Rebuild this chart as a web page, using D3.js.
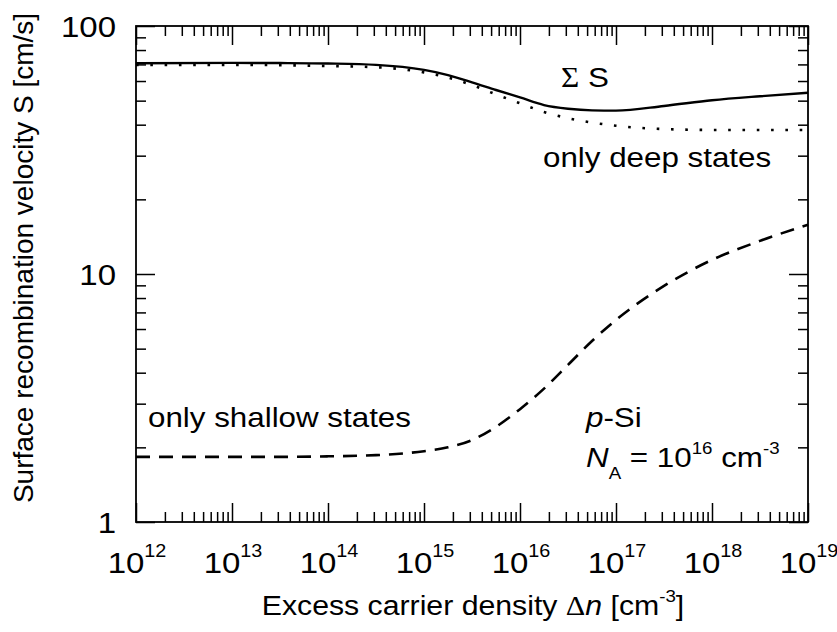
<!DOCTYPE html>
<html><head><meta charset="utf-8">
<script src="https://cdn.jsdelivr.net/npm/d3@7"></script>
<style>
body{margin:0;background:#fff;}
text{font-family:"Liberation Sans",Arial,sans-serif;fill:#000;}
</style></head>
<body><svg id="c" width="837" height="632"></svg>
<script>
// Excess carrier density (cm^-3)
const density = [1e12,1e13,10**13.5,1e14,10**14.5,1e15,10**15.25,10**15.5,10**15.75,1e16,10**16.25,10**16.5,10**16.75,1e17,10**17.5,1e18,10**18.5,1e19];
// Total S (solid)
const sumS    = [70.8,71.0,70.9,70.6,69.7,66.5,63.4,59.3,55.2,51.5,48.0,46.4,45.7,45.6,47.6,50.2,52.1,53.8];
// only deep states (dotted)
const deepS   = [69.7,69.7,69.5,69.0,68.2,65.0,62.0,57.8,53.0,48.8,45.0,42.5,40.8,39.6,38.4,38.1,38.1,38.1];
// only shallow states (dashed)
const shallowS= [1.83,1.83,1.83,1.84,1.86,1.93,2.00,2.14,2.42,2.85,3.45,4.30,5.37,6.53,8.95,11.4,13.6,15.8];

const xDecades = [12,13,14,15,16,17,18,19];
const yTickValues = [1,10,100];
const yTickLabels = ["1","10","100"];

const svg = d3.select("#c");
const L=136,R=808,T=26,B=522;
const SX=1.1; // horizontal stretch of the lettering
const x = d3.scaleLog().domain([1e12,1e19]).range([L,R]);
const y = d3.scaleLog().domain([1,100]).range([B,T]);

const xMajor = xDecades.map(e=>10**e);
const xMinor = [];
for(let e=12;e<19;e++) for(let k=2;k<=9;k++) xMinor.push(k*10**e);
const yMinor = [];
for(let e=0;e<2;e++) for(let k=2;k<=9;k++) yMinor.push(k*10**e);

function styleAxis(g){
  g.select(".domain").remove();
  g.selectAll("line").attr("stroke","#000").attr("stroke-width",1.5);
  g.selectAll("text").remove();
}
const MJ=19, MN=10;
svg.append("g").attr("transform",`translate(0,${B})`).call(d3.axisBottom(x).tickValues(xMajor).tickSize(-MJ)).call(styleAxis);
svg.append("g").attr("transform",`translate(0,${B})`).call(d3.axisBottom(x).tickValues(xMinor).tickSize(-MN)).call(styleAxis);
svg.append("g").attr("transform",`translate(0,${T})`).call(d3.axisTop(x).tickValues(xMajor).tickSize(-MJ)).call(styleAxis);
svg.append("g").attr("transform",`translate(0,${T})`).call(d3.axisTop(x).tickValues(xMinor).tickSize(-MN)).call(styleAxis);
svg.append("g").attr("transform",`translate(${L},0)`).call(d3.axisLeft(y).tickValues(yTickValues).tickSize(-MJ)).call(styleAxis);
svg.append("g").attr("transform",`translate(${L},0)`).call(d3.axisLeft(y).tickValues(yMinor).tickSize(-MN)).call(styleAxis);
svg.append("g").attr("transform",`translate(${R},0)`).call(d3.axisRight(y).tickValues(yTickValues).tickSize(-MJ)).call(styleAxis);
svg.append("g").attr("transform",`translate(${R},0)`).call(d3.axisRight(y).tickValues(yMinor).tickSize(-MN)).call(styleAxis);

svg.append("rect").attr("x",L).attr("y",T).attr("width",R-L).attr("height",B-T)
  .attr("fill","none").attr("stroke","#000").attr("stroke-width",1.8);

function txt(px,py,size,anchor){
  return svg.append("text").attr("transform",`translate(${px},${py}) scale(${SX},1)`)
    .attr("font-size",size).attr("text-anchor",anchor||"start");
}

// tick labels
yTickValues.forEach((v,i)=>{ txt(L-20,y(v)+10.5,30,"end").text(yTickLabels[i]); });
xDecades.forEach(d=>{
  const t = txt(x(10**d)+1,573,30,"middle");
  t.append("tspan").text("10");
  t.append("tspan").attr("font-size",18).attr("dy",-16).text(d);
});

// lines
const line = d3.line().x((d,i)=>x(density[i])).y(d=>y(d)).curve(d3.curveMonotoneX);
svg.append("path").attr("d",line(sumS)).attr("fill","none").attr("stroke","#000").attr("stroke-width",2.4);
svg.append("path").attr("d",line(deepS)).attr("fill","none").attr("stroke","#000").attr("stroke-width",2.6).attr("stroke-dasharray","2.6,11.7");
svg.append("path").attr("d",line(shallowS)).attr("fill","none").attr("stroke","#000").attr("stroke-width",2.6).attr("stroke-dasharray","14,9");

// axis titles
const xt = txt(473,615,27.5,"middle");
xt.append("tspan").text("Excess carrier density ");
xt.append("tspan").attr("style","font-family:'Liberation Serif',serif").text("\u0394");
xt.append("tspan").attr("font-style","italic").text("n");
xt.append("tspan").text(" [cm");
xt.append("tspan").attr("font-size",17).attr("dy",-13).text("-3");
xt.append("tspan").attr("dy",13).text("]");

svg.append("text").attr("transform","translate(33,258) rotate(-90)").attr("text-anchor","middle")
  .attr("font-size",28).text("Surface recombination velocity S [cm/s]");

// annotations
const ss = txt(561,87,28.5);
ss.append("tspan").attr("style","font-family:'Liberation Serif',serif").text("\u03A3");
ss.append("tspan").text(" S");
txt(543,167,28.5).text("only deep states");
txt(148,427,28.5).text("only shallow states");
const ps = txt(586,427,28.5);
ps.append("tspan").attr("font-style","italic").text("p");
ps.append("tspan").text("-Si");
const na = txt(586,467,28.5);
na.append("tspan").attr("font-style","italic").text("N");
na.append("tspan").attr("font-size",17).attr("dy",12).text("A");
na.append("tspan").attr("dy",-12).text(" = 10");
na.append("tspan").attr("font-size",17).attr("dy",-13).text("16");
na.append("tspan").attr("dy",13).text(" cm");
na.append("tspan").attr("font-size",17).attr("dy",-13).text("-3");
</script></body></html>
